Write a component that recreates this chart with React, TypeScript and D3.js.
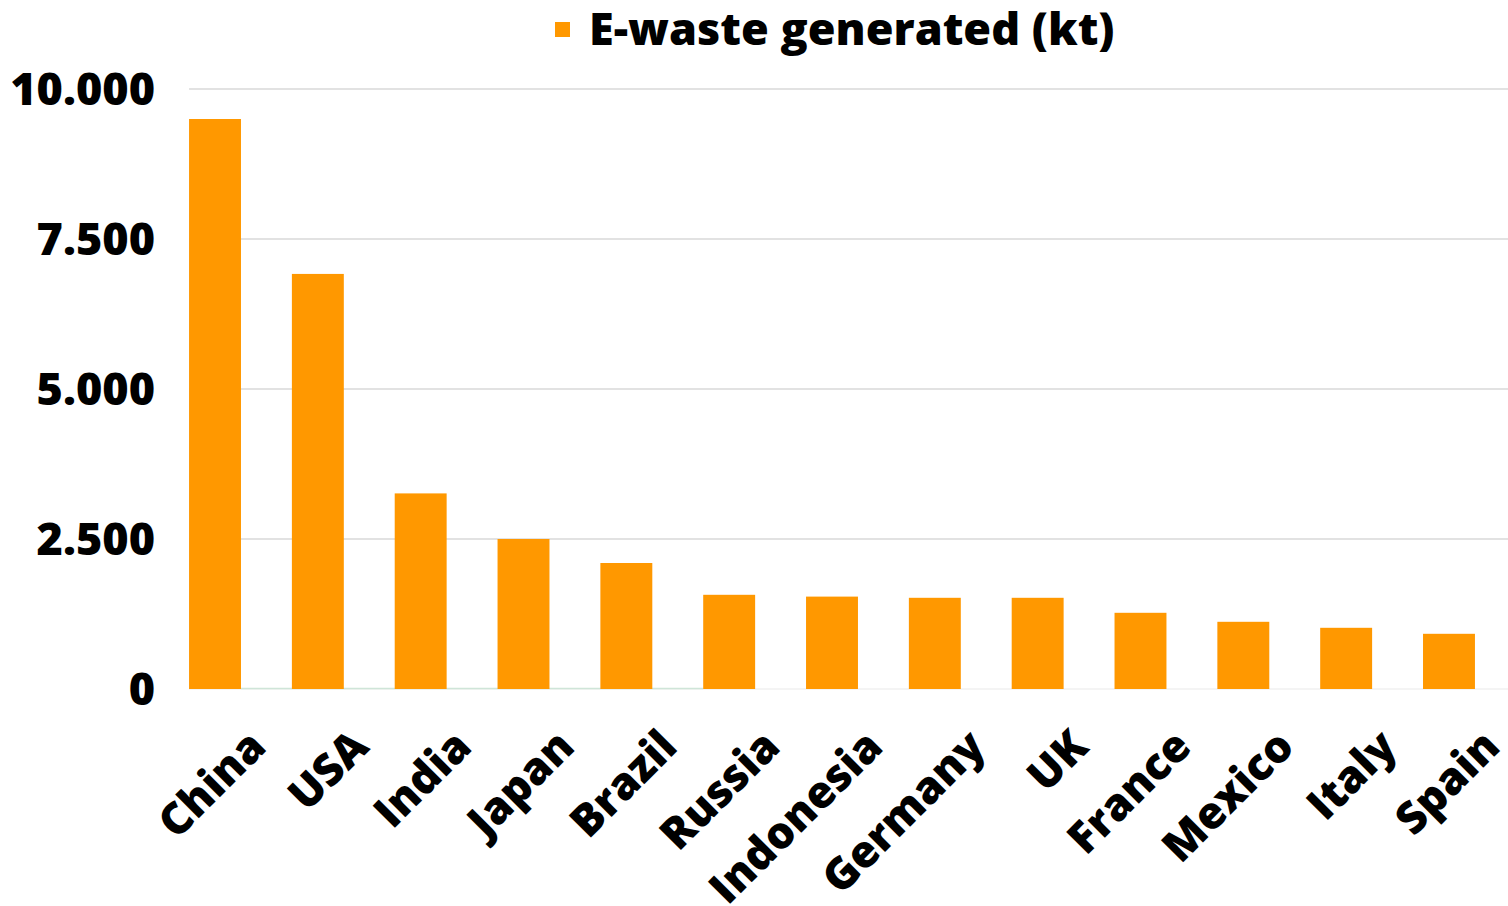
import React from "react";
import * as d3 from "d3";

const countries = ["China", "USA", "India", "Japan", "Brazil", "Russia", "Indonesia", "Germany", "UK", "France", "Mexico", "Italy", "Spain"];
const ewaste = [9500, 6918, 3260, 2500, 2100, 1570, 1540, 1520, 1520, 1270, 1120, 1020, 920];
const yTicks = [0, 2500, 5000, 7500, 10000];
const seriesName = "E-waste generated (kt)";

const W = 1508;
const H = 906;
const FONT = "'Open Sans', 'Noto Sans', sans-serif";

export default function App() {
  const x = d3.scaleBand<string>().domain(countries).range([163.6, 1500.4]).paddingInner(0.495).paddingOuter(0.2475);
  const y = d3.scaleLinear().domain([0, 10000]).range([689, 89]);
  const fmt = (v: number) => d3.format(",")(v).replace(/,/g, ".");
  const gridX0 = x(countries[0])!;
  return (
    <div style={{ position: "absolute", left: 0, top: 0, width: W, height: H, background: "#fff" }}>
      <svg width={W} height={H} style={{ display: "block", fontFamily: FONT }}>
        <rect width={W} height={H} fill="#fff" />
        {yTicks.map((t) => (
          <g key={t}>
            {t > 0 && <line x1={gridX0} x2={W} y1={y(t)} y2={y(t)} stroke="#d9d9d9" strokeWidth={1.5} />}
            <text x={155} y={y(t)} dy="0.36em" textAnchor="end" fontSize={45} fontWeight={800} fill="#000">
              {fmt(t)}
            </text>
          </g>
        ))}
        <line x1={gridX0} x2={W} y1={y(0)} y2={y(0)} stroke="#f0f0f0" strokeWidth={1.5} />
        <line x1={x("China")! + x.bandwidth()} x2={x("Russia")!} y1={y(0) - 0.5} y2={y(0) - 0.5} stroke="#cfe5d8" strokeWidth={1.5} />
        {countries.map((c, i) => (
          <rect key={c} x={x(c)} y={y(ewaste[i])} width={x.bandwidth()} height={y(0) - y(ewaste[i])} fill="#FF9800" />
        ))}
        {countries.map((c) => (
          <text
            key={c}
            transform={`translate(${x(c)! + x.bandwidth() / 2 + 53},${749}) rotate(-45)`}
            textAnchor="end"
            fontSize={44}
            fontWeight={800}
            fill="#000"
          >
            {c}
          </text>
        ))}
        <rect x={555} y={22} width={15} height={15} fill="#FF9800" />
        <text x={589} y={45} fontSize={45} fontWeight={800} fill="#000">
          {seriesName}
        </text>
      </svg>
    </div>
  );
}
